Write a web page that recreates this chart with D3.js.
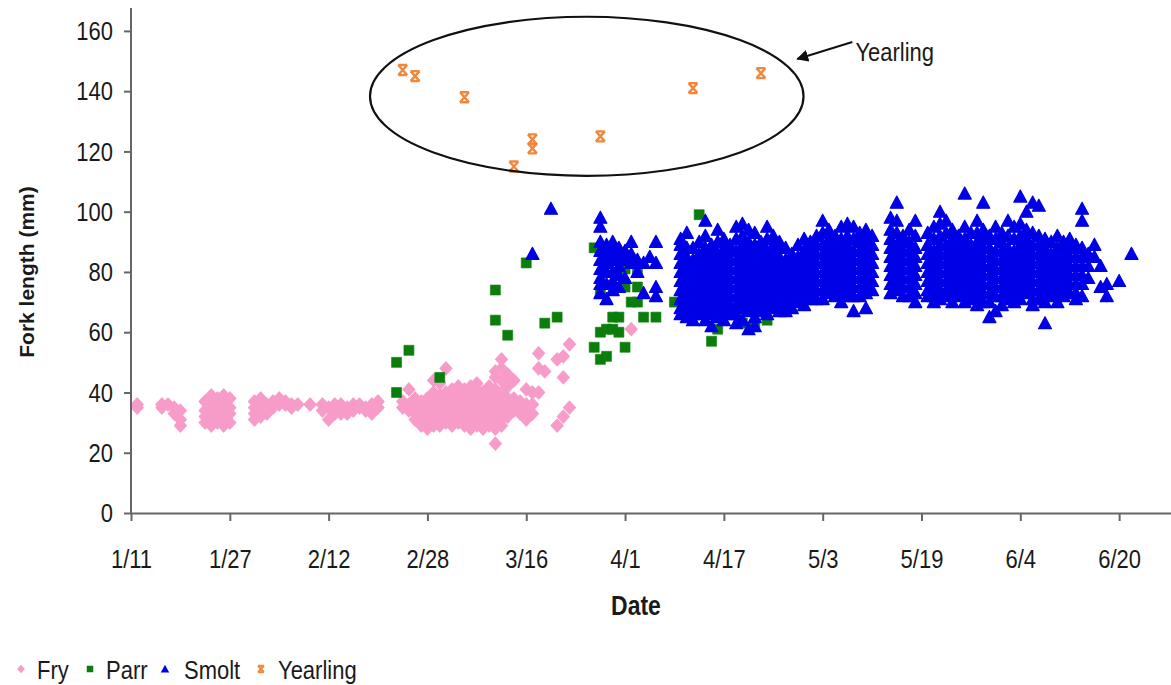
<!DOCTYPE html>
<html>
<head>
<meta charset="utf-8">
<script src="https://cdn.jsdelivr.net/npm/d3@7"></script>
<style>
  body { margin: 0; background: #fff; }
  text { font-family: "Liberation Sans", Arial, sans-serif; fill: #1a1a1a; }
  text.tall { transform-box: fill-box; transform-origin: center; transform: scaleY(1.2); }
</style>
</head>
<body>
<svg id="chart" width="1171" height="685"></svg>
<script>
// days counted from 1/11
const xTickDays = [0, 16, 32, 48, 64, 80, 96, 112, 128, 144, 160];
const xTickLabels = ['1/11', '1/27', '2/12', '2/28', '3/16', '4/1', '4/17', '5/3', '5/19', '6/4', '6/20'];
const yTicks = [0, 20, 40, 60, 80, 100, 120, 140, 160];

// fry: [day, [fork lengths]]
const fry = [
  [1, [36, 35]], [5, [36, 35]], [6, [36]], [7, [35, 33]], [8, [34, 31, 29]],
  [12, [37, 34, 32, 30]], [13, [39, 36, 33, 31, 29]], [14, [38, 35, 32, 30]],
  [15, [39, 37, 34, 31, 29]], [16, [38, 35, 33, 30]],
  [20, [37, 35, 33, 31]], [21, [38, 36, 34, 32]], [22, [36, 33]], [23, [35, 37]],
  [24, [38, 36]], [25, [37, 36]], [26, [36, 35]], [27, [36]],
  [29, [36]], [31, [36, 34]], [32, [35, 31]], [33, [36, 34, 33]], [34, [36, 35, 33]],
  [35, [35, 33]], [36, [36, 34]], [37, [36, 35]], [38, [35, 34]], [39, [36, 33]], [40, [37, 35]],
  [44, [37, 35]], [45, [41, 36, 34]], [46, [38, 35, 33, 31]], [47, [37, 34, 32, 30, 29]],
  [48, [38, 36, 34, 31, 28]], [49, [44, 40, 37, 35, 33, 31, 29]], [50, [43, 39, 37, 35, 33, 31, 29]],
  [51, [48, 40, 38, 36, 34, 32, 30]], [52, [41, 39, 37, 35, 33, 31, 29]],
  [53, [42, 40, 38, 36, 34, 32, 30]], [54, [41, 39, 37, 35, 33, 31, 29]],
  [55, [42, 40, 38, 36, 34, 32, 30, 28]], [56, [43, 41, 39, 37, 35, 33, 31, 29]],
  [57, [40, 38, 36, 34, 32, 30, 28]], [58, [42, 39, 37, 35, 33, 31, 29]],
  [59, [47, 45, 41, 38, 36, 34, 32, 30, 28, 23]], [60, [51, 48, 44, 40, 37, 35, 33, 31, 29]],
  [61, [46, 42, 38, 36, 34, 32]], [62, [44, 38, 36, 34]], [63, [37, 35, 33]],
  [64, [41, 36, 34, 31]], [65, [40, 36, 33]], [66, [53, 48, 40]], [67, [47]],
  [69, [51, 29]], [70, [52, 45, 32]], [71, [56, 35]], [81, [61]]
];

// parr: [day, fork length]
const parr = [
  [43, 50], [45, 54], [43, 40], [50, 45],
  [59, 74], [59, 64], [61, 59], [64, 83], [67, 63], [69, 65],
  [75, 55], [76, 51], [77, 52], [75, 88], [76, 73], [80, 85], [80, 81], [82, 80], [80, 75], [82, 75],
  [81, 70], [82, 70], [78, 65], [79, 65], [83, 65], [85, 65], [76, 60], [77, 61], [78, 61], [79, 60], [80, 55],
  [88, 70], [92, 99], [95, 61], [94, 57], [95, 68], [97, 66], [99, 63], [101, 62], [103, 64], [105, 67]
];

// smolt: [day, [fork lengths]]
const smolt = [
  [65, [86]], [68, [101]],
  [76, [98, 95, 90, 87, 84, 81, 78, 76, 73]], [77, [89, 86, 83, 80, 76, 71]], [78, [90, 87, 84, 80, 77, 74]],
  [79, [88, 85, 82, 79, 75]], [80, [87, 84, 78]], [81, [90, 86, 83]], [82, [84, 80]], [83, [83, 73]],
  [84, [85]], [85, [90, 83, 75, 72]],
  [89, [91, 89, 86, 83, 80, 77, 74, 71, 68, 66]], [90, [93, 88, 85, 82, 79, 76, 73, 70, 67, 65]],
  [91, [88, 84, 81, 78, 75, 72, 69, 66, 64]], [92, [90, 86, 83, 80, 77, 74, 71, 68, 66]],
  [93, [97, 92, 88, 85, 82, 79, 76, 73, 70, 67, 64]], [94, [89, 87, 84, 81, 78, 75, 72, 69, 66, 62]],
  [95, [94, 90, 86, 83, 80, 77, 74, 71, 68, 65]], [96, [91, 88, 85, 82, 79, 76, 73, 70, 67, 64]],
  [97, [89, 87, 84, 81, 78, 75, 72, 69, 66]], [98, [95, 91, 87, 84, 81, 78, 75, 72, 69, 66, 63]],
  [99, [96, 92, 89, 86, 83, 80, 77, 74, 71, 68, 64]], [100, [94, 90, 88, 85, 82, 79, 76, 73, 70, 67, 61]],
  [101, [93, 89, 86, 83, 80, 77, 74, 71, 68, 65, 62]], [102, [90, 88, 85, 82, 79, 76, 73, 70, 67]],
  [103, [95, 91, 87, 84, 81, 78, 75, 72, 69, 66]], [104, [92, 89, 86, 83, 80, 77, 74, 71, 68]],
  [105, [90, 88, 85, 82, 79, 76, 73, 70, 67]], [106, [88, 84, 81, 78, 75, 72, 69, 67]],
  [107, [86, 83, 80, 77, 74, 71, 68]], [108, [89, 85, 82, 79, 76, 73, 70]],
  [109, [91, 87, 84, 81, 78, 75, 72, 69]], [110, [90, 88, 85, 82, 79, 76, 73, 71]],
  [111, [92, 89, 86, 83, 80, 77, 74, 71]], [112, [97, 93, 89, 86, 83, 80, 77, 74, 71]],
  [113, [94, 91, 88, 85, 82, 79, 76, 73]], [114, [92, 90, 87, 84, 81, 78, 75, 72]],
  [115, [95, 91, 88, 85, 82, 79, 76, 73, 70]], [116, [96, 92, 89, 86, 83, 80, 77, 74, 72]],
  [117, [95, 91, 87, 84, 81, 78, 75, 72, 67]], [118, [93, 90, 87, 84, 81, 78, 75, 72]],
  [119, [94, 91, 88, 85, 82, 79, 76, 73, 68]], [120, [92, 89, 86, 83, 80, 77, 74]],
  [123, [98, 94, 91, 88, 85, 82, 79, 76, 73]], [124, [103, 97, 93, 89, 86, 83, 80, 77, 74]],
  [125, [92, 90, 87, 84, 81, 78, 75, 72]], [126, [94, 90, 87, 84, 81, 78, 75, 72]],
  [127, [97, 92, 88, 85, 82, 79, 76, 73, 70]],
  [129, [93, 89, 86, 83, 80, 77, 74, 72]], [130, [95, 91, 87, 84, 81, 78, 75, 72, 70]],
  [131, [100, 96, 92, 89, 86, 83, 80, 77, 74, 71]], [132, [97, 93, 89, 86, 83, 80, 77, 74, 72]],
  [133, [94, 91, 88, 85, 82, 79, 76, 73, 70]], [134, [92, 90, 87, 84, 81, 78, 75, 72]],
  [135, [106, 95, 91, 88, 85, 82, 79, 76, 73, 70]], [136, [93, 89, 86, 83, 80, 77, 74, 71]],
  [137, [97, 93, 90, 87, 84, 81, 78, 75, 72, 69]], [138, [103, 94, 91, 88, 85, 82, 79, 76, 73, 70]],
  [139, [92, 88, 85, 82, 79, 76, 73, 70, 65]], [140, [95, 91, 87, 84, 81, 78, 75, 72, 67]],
  [141, [93, 90, 87, 84, 81, 78, 75, 72, 69]], [142, [97, 92, 88, 85, 82, 79, 76, 73, 71]],
  [143, [95, 91, 87, 84, 81, 78, 75, 72, 70]], [144, [105, 96, 92, 89, 86, 83, 80, 77, 74, 71]],
  [145, [100, 94, 91, 88, 85, 82, 79, 76, 73]], [146, [103, 93, 89, 86, 83, 80, 77, 74, 71, 69]],
  [147, [102, 92, 89, 86, 83, 80, 77, 74, 71]], [148, [91, 88, 85, 82, 79, 76, 73, 70, 63]],
  [149, [90, 86, 83, 80, 77, 74, 72]], [150, [92, 88, 85, 82, 79, 76, 73, 70]],
  [151, [90, 87, 84, 81, 78, 75, 72]], [152, [91, 88, 85, 82, 79, 76, 73]],
  [153, [89, 85, 82, 79, 76, 73, 71]], [154, [101, 97, 88, 85, 82, 79, 76, 72]],
  [155, [86, 82, 78]], [156, [89, 85]], [157, [82, 75]], [158, [76, 72]], [160, [77]], [162, [86]]
];

// yearling: [day, fork length]
const yearling = [[44, 147], [46, 145], [54, 138], [62, 115], [65, 124], [65, 121], [76, 125], [91, 141], [102, 146]];

const colors = { fry: '#f79cc8', parr: '#0b7d0b', smolt: '#0000e6', yearling: '#f0883c' };

const svg = d3.select('#chart');
const plotLeft = 131, plotRight = 1171, plotTop = 8, plotBottom = 513;

const x = d3.scaleLinear().domain([0, 168.4]).range([plotLeft, plotRight]);
const y = d3.scaleLinear().domain([0, 167.6]).range([plotBottom, plotTop]);

const flat = rows => rows.flatMap(r => r[1].map(v => [r[0], v]));

const shapes = {
  fry: 'M0,-6.5L6,0L0,6.5L-6,0Z',
  parr: 'M-5,-5H5V5H-5Z',
  smolt: 'M0,-6.5L6.5,5.5H-6.5Z',
  yearling: 'M-4.5,-5H4.5M-4.5,5H4.5M-4.5,-5L4.5,5M4.5,-5L-4.5,5'
};

function drawSeries(name, points) {
  const g = svg.append('g').attr('class', name);
  const p = g.selectAll('path')
    .data(points)
    .enter()
    .append('path')
      .attr('d', shapes[name])
      .attr('transform', d => 'translate(' + x(d[0]) + ',' + y(d[1]) + ')');
  if (name === 'yearling') {
    p.attr('fill', 'none').attr('stroke', colors[name]).attr('stroke-width', 2.4);
  } else {
    // a thin same-colour edge, like the soft edges of the original markers
    p.attr('fill', colors[name]).attr('stroke', colors[name])
      .attr('stroke-width', name === 'parr' ? 0.6 : 1.2).attr('stroke-linejoin', 'round');
  }
}

drawSeries('fry', flat(fry));
drawSeries('parr', parr);
drawSeries('smolt', flat(smolt));
drawSeries('yearling', yearling);

// axes
const yAxis = d3.axisLeft(y).tickValues(yTicks).tickSize(7).tickSizeOuter(0).tickPadding(11);
const gy = svg.append('g').attr('transform', 'translate(' + plotLeft + ',0)').call(yAxis);
const xAxis = d3.axisBottom(x).tickValues(xTickDays).tickFormat((d, i) => xTickLabels[i])
  .tickSize(8).tickSizeOuter(0).tickPadding(30);
const gx = svg.append('g').attr('transform', 'translate(0,' + plotBottom + ')').call(xAxis);

[gx, gy].forEach(g => {
  g.select('.domain').attr('stroke', '#666').attr('stroke-width', 2);
  g.selectAll('.tick line').attr('stroke', '#666').attr('stroke-width', 2);
  g.selectAll('.tick text').attr('class', 'tall').attr('font-size', 22).attr('fill', '#1a1a1a')
    .style('font-family', '"Liberation Sans", Arial, sans-serif');
});
gy.select('.domain').attr('d', 'M0,' + plotTop + 'V' + plotBottom);

svg.append('g')
  .attr('transform', 'translate(34,272) rotate(-90)')
  .append('text')
  .attr('text-anchor', 'middle')
  .attr('font-size', 21)
  .attr('font-weight', 'bold')
  .text('Fork length (mm)');

svg.append('text')
  .attr('class', 'tall')
  .attr('x', 636).attr('y', 613)
  .attr('text-anchor', 'middle')
  .attr('font-size', 23)
  .attr('font-weight', 'bold')
  .text('Date');

// yearling annotation
const cx = 73.8, cy = 138.3;
svg.append('ellipse')
  .attr('cx', x(cx)).attr('cy', y(cy))
  .attr('rx', x(cx + 35.1) - x(cx)).attr('ry', y(cy) - y(cy + 26.4))
  .attr('fill', 'none').attr('stroke', '#111').attr('stroke-width', 2.2);

svg.append('defs').append('marker')
  .attr('id', 'head').attr('viewBox', '0 0 10 10').attr('refX', 9).attr('refY', 5)
  .attr('markerWidth', 6).attr('markerHeight', 6).attr('orient', 'auto')
  .append('path').attr('d', 'M0,0L10,5L0,10Z').attr('fill', '#111');

svg.append('line')
  .attr('x1', x(116.8)).attr('y1', y(156.3))
  .attr('x2', x(107.9)).attr('y2', y(150.7))
  .attr('stroke', '#111').attr('stroke-width', 2)
  .attr('marker-end', 'url(#head)');

svg.append('text')
  .attr('class', 'tall')
  .attr('x', x(117.3)).attr('y', 59)
  .attr('font-size', 22)
  .text('Yearling');

// legend
const legend = [
  { key: 'fry', label: 'Fry', mx: 21, tx: 37 },
  { key: 'parr', label: 'Parr', mx: 90, tx: 106 },
  { key: 'smolt', label: 'Smolt', mx: 165, tx: 184 },
  { key: 'yearling', label: 'Yearling', mx: 261, tx: 278 }
];
const lg = svg.append('g');
legend.forEach(l => {
  const m = lg.append('path')
    .attr('d', shapes[l.key])
    .attr('transform', 'translate(' + l.mx + ',669) scale(0.65)');
  if (l.key === 'yearling') m.attr('fill', 'none').attr('stroke', colors[l.key]).attr('stroke-width', 3);
  else m.attr('fill', colors[l.key]);
  lg.append('text').attr('class', 'tall').attr('x', l.tx).attr('y', 677).attr('font-size', 22).text(l.label);
});
</script>
</body>
</html>
